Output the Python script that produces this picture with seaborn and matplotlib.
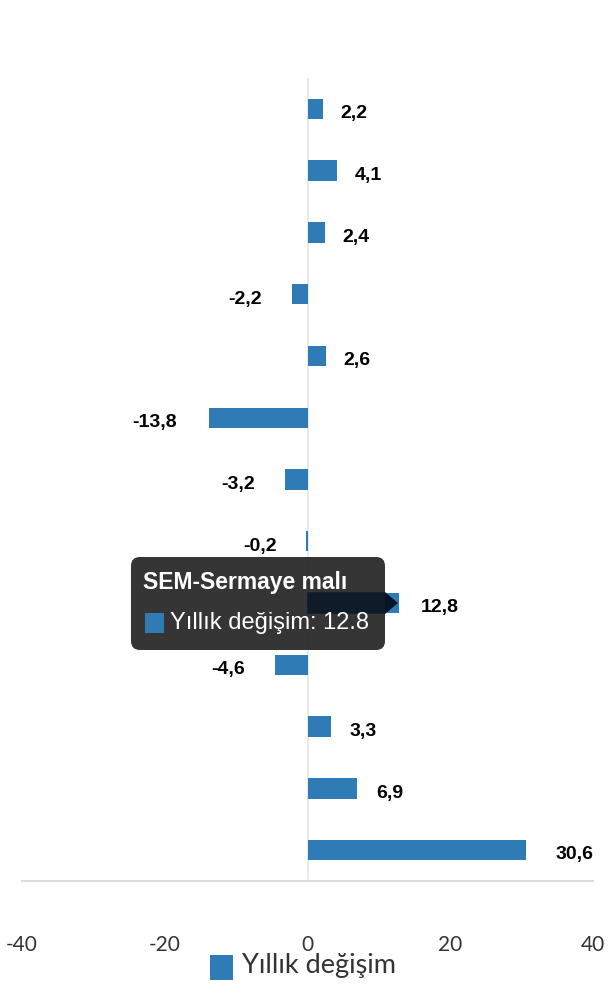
import matplotlib
matplotlib.use("Agg")
import matplotlib.pyplot as plt
import seaborn as sns
import pandas as pd
from matplotlib.patches import FancyBboxPatch, Polygon, Rectangle

categories = ["Kategori 1", "Kategori 2", "Kategori 3", "Kategori 4", "Kategori 5",
              "Kategori 6", "Kategori 7", "Kategori 8", "SEM-Sermaye malı",
              "Kategori 10", "Kategori 11", "Kategori 12", "Kategori 13"]
values = [2.2, 4.1, 2.4, -2.2, 2.6, -13.8, -3.2, -0.2, 12.8, -4.6, 3.3, 6.9, 30.6]
series_name = "Yıllık değişim"
x_ticks = [-40, -20, 0, 20, 40]
tooltip_index = 8

df = pd.DataFrame({"cat": categories, "val": values})
BLUE = "#2f7bb6"

sns.set_theme(style="white")
plt.rcParams['font.family'] = ['Liberation Sans', 'DejaVu Sans']

fig = plt.figure(figsize=(6.1, 10), dpi=100)
ax = fig.add_axes([22/610, 1-881/1000, (593-22)/610, (881-78)/1000])

sns.barplot(data=df, x="val", y="cat", orient="h", color=BLUE, width=0.33,
            saturation=1, ax=ax, zorder=3, linewidth=0)

ax.set_xlim(-40, 40)
ax.set_ylim(len(categories) - 0.5, -0.5)
ax.set_xticks(x_ticks)
ax.set_xticklabels([str(t) for t in x_ticks], fontsize=15, color="#333333",
                   family=['Lato', 'DejaVu Sans'])
ax.tick_params(axis='x', length=0, pad=39)
ax.set_yticks([])
ax.set_xlabel("")
ax.set_ylabel("")
for s in ["top", "right", "left"]:
    ax.spines[s].set_visible(False)
ax.spines["bottom"].set_color("#dcdcdc")
ax.spines["bottom"].set_linewidth(1.5)
ax.axvline(0, color="#e6e6e6", lw=1.2, zorder=1)

for i, v in enumerate(values):
    label = f"{v:.1f}".replace(".", ",")
    if v >= 0:
        ax.annotate(label, (v * 1.06, i), xytext=(12, -3.5), textcoords="offset points",
                    ha="left", va="center", fontsize=14, fontweight="bold", color="black")
    else:
        ax.annotate(label, (v * 1.03, i), xytext=(-21, -3.5), textcoords="offset points",
                    ha="right", va="center", fontsize=14, fontweight="bold", color="black")

# tooltip
tip_ax = fig.add_axes([0, 0, 1, 1], facecolor="none")
tip_ax.set_xlim(0, 610)
tip_ax.set_ylim(1000, 0)
tip_ax.axis("off")
box = FancyBboxPatch((131, 557), 254, 93, boxstyle="round,pad=0,rounding_size=9",
                     fc="#1f1f1f", ec="none", alpha=0.9)
tip_ax.add_patch(box)
tip_ax.add_patch(Polygon([[385, 592], [398, 603], [385, 614]], closed=True,
                         fc="#031526", ec="none"))
tip_ax.add_patch(Rectangle((307, 592), 78, 22, fc="#031526", ec="none", alpha=0.6))
tip_ax.text(143, 582, categories[tooltip_index], fontsize=16.5, fontweight="bold",
            color="white", va="center", ha="left")
tip_ax.add_patch(Rectangle((145, 613), 19, 20, fc=BLUE, ec="none"))
tip_ax.text(170, 623, f"{series_name}: {values[tooltip_index]}", fontsize=17,
            color="white", va="center", ha="left")

# legend
tip_ax.add_patch(Rectangle((210, 955), 23, 25, fc=BLUE, ec="none"))
tip_ax.text(242, 966, series_name, fontsize=19.5, color="#333333", va="center", ha="left",
            family=['Lato', 'DejaVu Sans'])

fig.savefig("out.png", dpi=100)
